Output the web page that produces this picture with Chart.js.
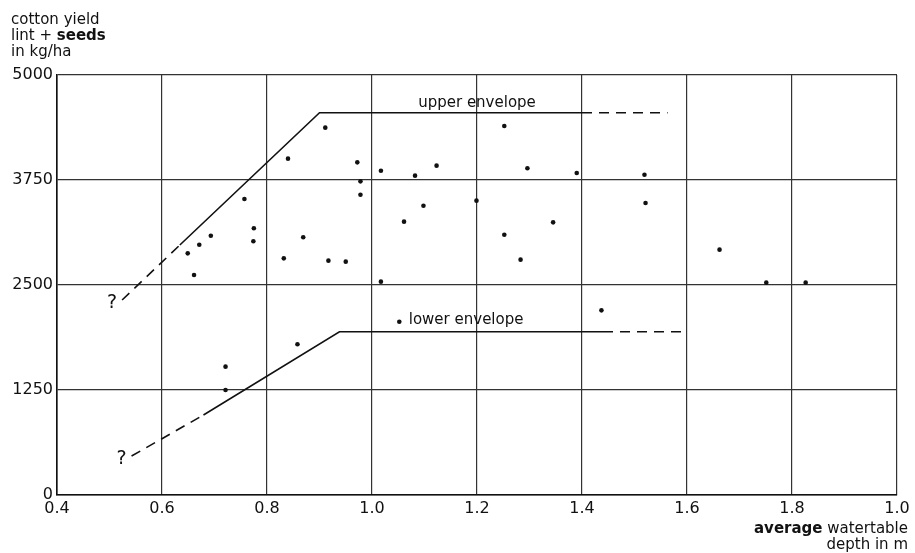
<!DOCTYPE html>
<html>
<head>
<meta charset="utf-8">
<script src="https://cdn.jsdelivr.net/npm/chart.js@4.4.1/dist/chart.umd.min.js"></script>
<style>
  html, body { margin: 0; padding: 0; background: #fff; }
  #wrap { position: relative; width: 915px; height: 553px; }
</style>
</head>
<body>
<div id="wrap"><canvas id="chart" width="915" height="553"></canvas></div>
<script>
// data
const depthX = [0.911, 0.840, 0.757, 0.775, 0.774, 0.869, 0.693, 0.671, 0.649, 0.661, 0.832, 0.917, 0.950,
  0.972, 0.978, 0.978, 1.017, 1.082, 1.123, 1.098, 1.061, 1.017, 1.252, 1.296, 1.390, 1.199, 1.345, 1.252, 1.283,
  1.519, 1.521, 1.662, 1.751, 1.826, 1.052, 0.858, 0.721, 0.721, 1.437];
const yieldY = [4373, 4004, 3524, 3175, 3020, 3068, 3087, 2980, 2877, 2619, 2817, 2790, 2778,
  3960, 3734, 3575, 3861, 3802, 3921, 3444, 3254, 2540, 4393, 3889, 3833, 3504, 3246, 3099, 2802,
  3813, 3476, 2921, 2528, 2528, 2063, 1794, 1528, 1250, 2198];

const upperX = [0.524, 0.634, 0.900, 1.400, 1.563];
const upperY = [2321, 2976, 4551, 4551, 4551];
const upperDashed = [0, 3];

const lowerX = [0.542, 0.679, 0.938, 1.440, 1.593];
const lowerY = [464, 952, 1944, 1944, 1944];
const lowerDashed = [0, 3];

const xTickLabels = ['0.4', '0.6', '0.8', '1.0', '1.2', '1.4', '1.6', '1.8', '1.0'];
const yTicks = [0, 1250, 2500, 3750, 5000];

const toPts = (xs, ys) => xs.map((x, i) => ({ x: x, y: ys[i] }));
const dashSeg = list => ctx => list.includes(ctx.p0DataIndex) ? [10, 7] : undefined;

// texte um den Plot herum
const labelsPlugin = {
  id: 'labels',
  afterDraw(chart) {
    const c = chart.ctx;
    const sx = chart.scales.x, sy = chart.scales.y;
    c.save();
    c.fillStyle = '#111';
    c.textBaseline = 'alphabetic';
    c.textAlign = 'left';
    c.font = '15px "DejaVu Sans"';
    c.fillText('cotton yield', 11, 24);
    c.fillText('lint + ', 11, 40);
    const w = c.measureText('lint + ').width;
    c.font = 'bold 15px "DejaVu Sans"';
    c.fillText('seeds', 11 + w, 40);
    c.font = '15px "DejaVu Sans"';
    c.fillText('in kg/ha', 11, 56);

    c.font = '15px "DejaVu Sans"';
    c.textAlign = 'center';
    c.fillText('upper envelope', sx.getPixelForValue(1.2), sy.getPixelForValue(4550) - 6);
    c.textAlign = 'left';
    c.fillText('lower envelope', sx.getPixelForValue(1.07), sy.getPixelForValue(1944) - 8);

    c.font = '19px "DejaVu Sans"';
    c.textAlign = 'center';
    c.fillText('?', sx.getPixelForValue(upperX[0]) - 10, sy.getPixelForValue(upperY[0]) + 8);
    c.fillText('?', sx.getPixelForValue(lowerX[0]) - 10, sy.getPixelForValue(lowerY[0]) + 8);

    c.textAlign = 'right';
    c.font = '15px "DejaVu Sans"';
    const rest = ' watertable';
    c.fillText(rest, 908, 533);
    const rw = c.measureText(rest).width;
    c.font = 'bold 15px "DejaVu Sans"';
    c.fillText('average', 908 - rw, 533);
    c.font = '15px "DejaVu Sans"';
    c.fillText('depth in m', 908, 549);
    c.restore();
  }
};

new Chart(document.getElementById('chart'), {
  type: 'scatter',
  data: {
    datasets: [
      { data: toPts(depthX, yieldY), pointRadius: 2.3, backgroundColor: '#111', borderWidth: 0 },
      { data: toPts(upperX, upperY), showLine: true, pointRadius: 0, borderColor: '#111', borderWidth: 1.6,
        segment: { borderDash: dashSeg(upperDashed) } },
      { data: toPts(lowerX, lowerY), showLine: true, pointRadius: 0, borderColor: '#111', borderWidth: 1.6,
        segment: { borderDash: dashSeg(lowerDashed) } }
    ]
  },
  options: {
    responsive: false,
    animation: false,
    layout: { padding: { left: 0, right: 18, top: 75, bottom: 0 } },
    plugins: { legend: { display: false }, tooltip: { enabled: false } },
    scales: {
      x: {
        type: 'linear', min: 0.4, max: 2.0,
        afterFit: s => { s.height = 58; },
        afterBuildTicks: s => { s.ticks = xTickLabels.map((t, i) => ({ value: 0.4 + i * 0.2 })); },
        ticks: { callback: (v, i) => xTickLabels[i], color: '#111', padding: 4,
                 font: { family: 'DejaVu Sans', size: 16 }, maxRotation: 0, autoSkip: false },
        grid: { color: '#333', lineWidth: 1.2, drawTicks: false },
        border: { color: '#111', width: 1.6 }
      },
      y: {
        type: 'linear', min: 0, max: 5000,
        afterFit: s => { s.width = 57; },
        afterBuildTicks: s => { s.ticks = yTicks.map(v => ({ value: v })); },
        ticks: { callback: v => String(v), color: '#111', padding: 4,
                 font: { family: 'DejaVu Sans', size: 16 } },
        grid: { color: '#333', lineWidth: 1.2, drawTicks: false },
        border: { color: '#111', width: 1.6 }
      }
    }
  },
  plugins: [labelsPlugin]
});
</script>
</body>
</html>
